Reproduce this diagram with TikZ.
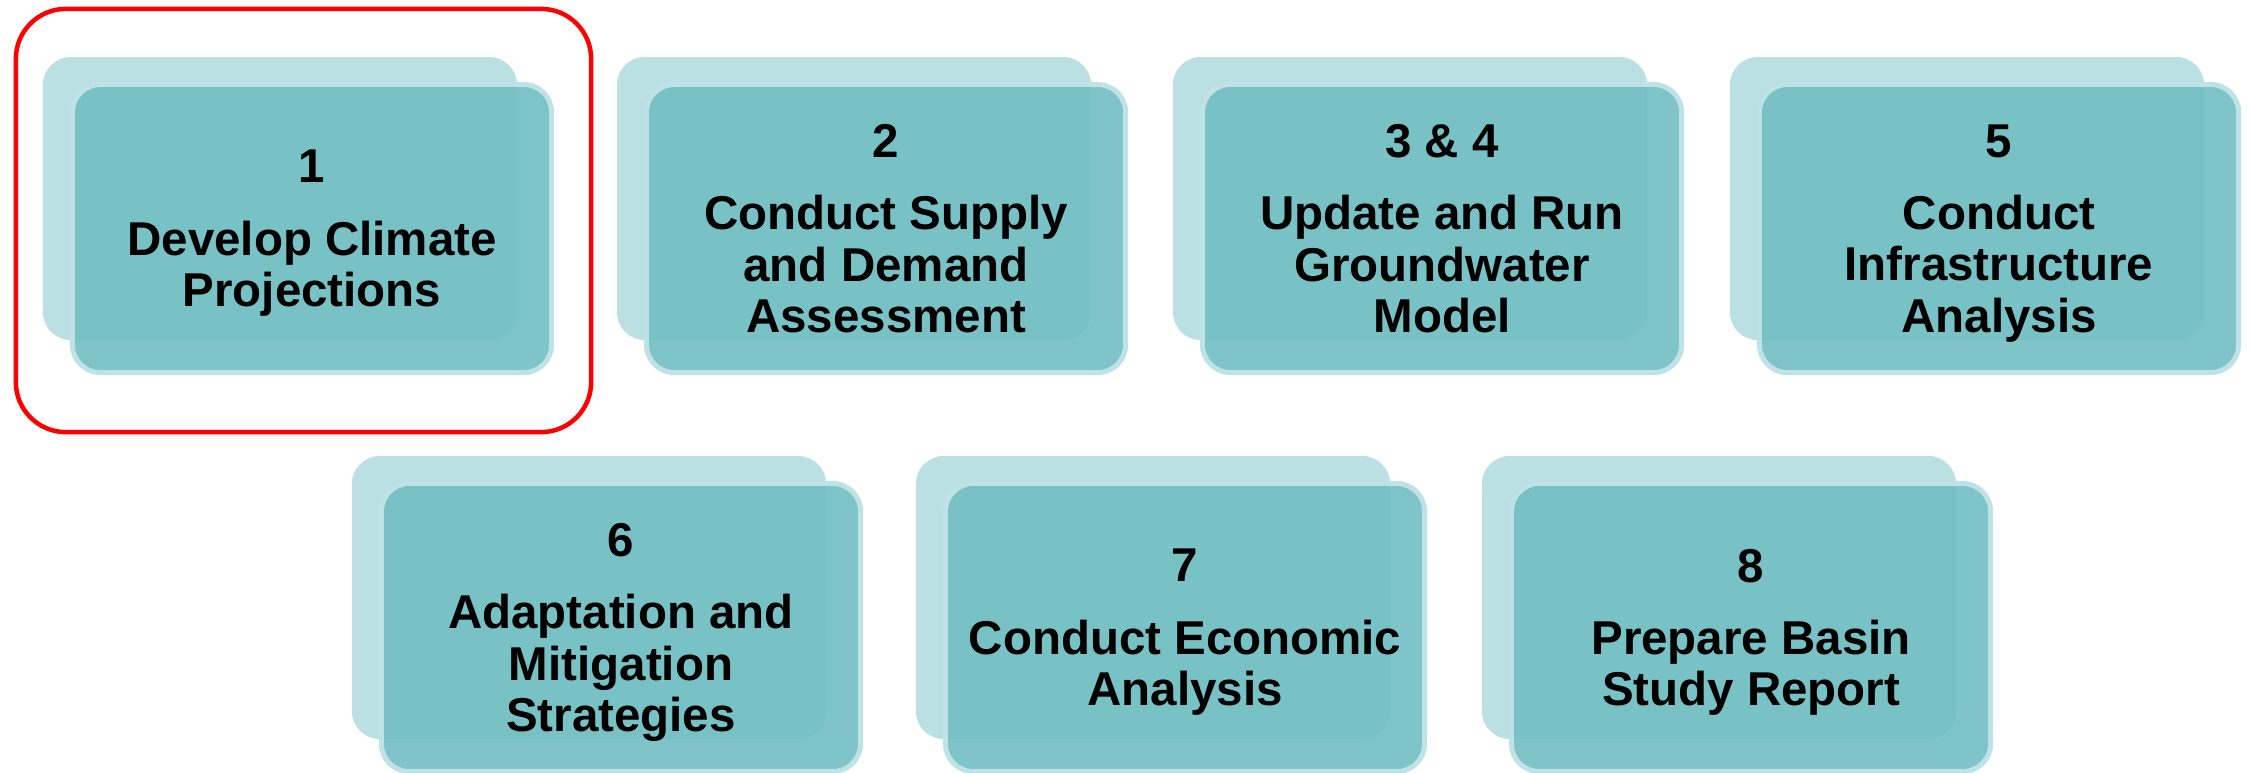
\documentclass[tikz,border=0pt]{standalone}
\usepackage{fontspec}
\setmainfont{Liberation Sans}
\definecolor{backcol}{RGB}{187,224,227}
\definecolor{frontcol}{RGB}{113,190,194}
\definecolor{edgecol}{RGB}{190,226,229}
\begin{document}
\begin{tikzpicture}[x=0.01cm,y=-0.01cm,
    backbox/.style={fill=backcol,rounded corners=0.28cm,minimum width=4.74cm,minimum height=2.83cm,inner sep=0pt},
    stepbox/.style={draw=edgecol,line width=0.05cm,fill=frontcol,fill opacity=0.9,text opacity=1,
        rounded corners=0.28cm,minimum width=4.79cm,minimum height=2.88cm,inner sep=0pt,text depth=0pt,
        align=center,font=\fontsize{13.5}{14.7}\selectfont\bfseries},
    focus/.style={draw=red,line width=0.045cm,rounded corners=0.5cm,minimum width=5.75cm,minimum height=4.23cm,inner sep=0pt}]
  \useasboundingbox (0,0) rectangle (2251,772);
  \node[focus] (frame) at (303.5,220.5) {};
  % steps: back card, then front card shifted down right
  \foreach \n/\x/\y/\txt in {
      1/280/198.5/{1\\[5.8pt]Develop Climate\\Projections},
      2/854/198.5/{2\\[5.8pt]Conduct Supply\\and Demand\\Assessment},
      3/1410/198.5/{3 \& 4\\[5.8pt]Update and Run\\Groundwater\\Model},
      5/1967/198.5/{5\\[5.8pt]Conduct\\Infrastructure\\Analysis},
      6/589/597.5/{6\\[5.8pt]Adaptation and\\Mitigation\\Strategies},
      7/1153/597.5/{7\\[5.8pt]Conduct Economic\\Analysis},
      8/1719/597.5/{8\\[5.8pt]Prepare Basin\\Study Report}}
  {
    \node[backbox] (b\n) at (\x,\y) {};
    \node[stepbox,xshift=0.32cm,yshift=-0.30cm] (s\n) at (b\n) {\txt};
  }
\end{tikzpicture}
\end{document}
